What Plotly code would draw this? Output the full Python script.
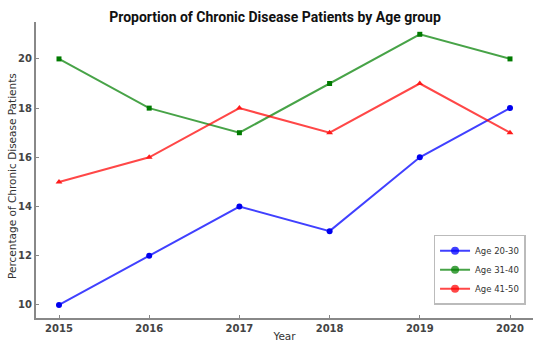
import plotly.graph_objects as go

years = [2015, 2016, 2017, 2018, 2019, 2020]
age_20_30 = [10, 12, 14, 13, 16, 18]
age_31_40 = [20, 18, 17, 19, 21, 20]
age_41_50 = [15, 16, 18, 17, 19, 17]
y_ticks = [10, 12, 14, 16, 18, 20]

series = [
    ("Age 20-30", age_20_30, "rgba(0,0,255,0.75)", "#0000ee", "circle", 6),
    ("Age 31-40", age_31_40, "rgba(0,128,0,0.72)", "#007a00", "square", 5),
    ("Age 41-50", age_41_50, "rgba(255,0,0,0.72)", "#ff1a1a", "triangle-up", 6),
]

fig = go.Figure()
for name, vals, lc, mc, sym, ms in series:
    fig.add_trace(go.Scatter(x=years, y=vals, mode="lines+markers", name=name,
                             line=dict(color=lc, width=2),
                             marker=dict(color=mc, symbol=sym, size=ms),
                             showlegend=False))
for name, vals, lc, mc, sym, ms in series:
    fig.add_trace(go.Scatter(x=[None], y=[None], mode="lines+markers", name=name,
                             line=dict(color=lc, width=2),
                             marker=dict(color=lc, symbol="circle", size=8)))

axis_common = dict(showgrid=False, zeroline=False, showline=True, linecolor="#888888",
                   linewidth=2, ticks="inside", ticklen=3, tickcolor="#888888",
                   automargin=False,
                   tickfont=dict(family="DejaVu Sans", size=10, color="#444444", weight="bold"),
                   title_font=dict(family="DejaVu Sans", size=10.5, color="#333333"))

fig.update_layout(
    width=550, height=350,
    margin=dict(l=36, r=17, t=22, b=32),
    paper_bgcolor="white", plot_bgcolor="white",
    title=dict(text="<b>Proportion of Chronic Disease Patients by Age group</b>",
               x=0.5, xanchor="center", y=0.95, yanchor="middle",
               font=dict(family="Roboto", size=14, color="#111111")),
    xaxis=dict(range=[2014.745, 2020.255], tickmode="array", tickvals=years,
               ticktext=[str(y) for y in years], title=dict(text="Year", standoff=0),
               **axis_common),
    yaxis=dict(range=[9.47, 21.5], tickmode="array", tickvals=y_ticks,
               **axis_common),
    annotations=[dict(text="Percentage of Chronic Disease Patients", textangle=-90,
                      xref="paper", yref="paper", x=-0.0483, y=0.48,
                      xanchor="center", yanchor="middle", showarrow=False,
                      font=dict(family="DejaVu Sans", size=10.5, color="#333333"))],
    legend=dict(x=0.985, y=0.045, xanchor="right", yanchor="bottom",
                bgcolor="white", bordercolor="#bbbbbb", borderwidth=1.5,
                font=dict(family="DejaVu Sans", size=8.5, color="#333333"),
                itemwidth=30, tracegroupgap=0),
)

fig.write_html("out.html")
